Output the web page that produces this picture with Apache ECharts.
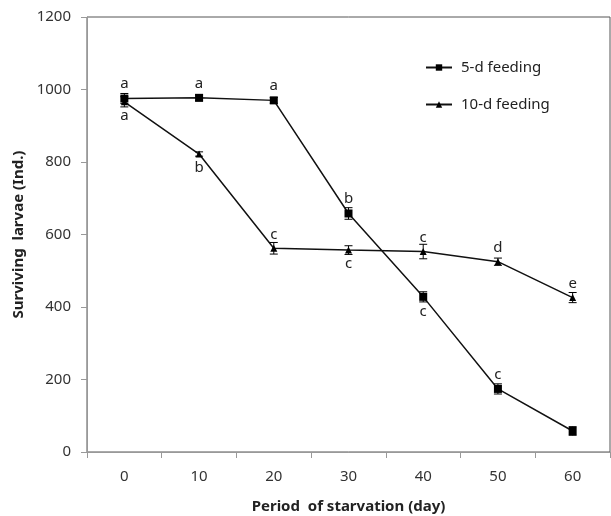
<!DOCTYPE html>
<html>
<head>
<meta charset="utf-8">
<script src="https://cdn.jsdelivr.net/npm/echarts@6/dist/echarts.min.js"></script>
<style>
  html, body { margin: 0; padding: 0; background: #fff; }
  #chart { width: 611px; height: 516px; }
</style>
</head>
<body>
<div id="chart"></div>
<script>
// 数据
var days = ['0', '10', '20', '30', '40', '50', '60'];
var feed5 = [975, 977, 970, 658, 428, 174, 58];
var feed5Err = [14, 8, 8, 16, 14, 14, 12];
var feed5Letters = ['a', 'a', 'a', 'b', 'c', 'c', ''];
var feed5LetterPos = ['top', 'top', 'top', 'top', 'bottom', 'top', 'top'];
var feed10 = [966, 822, 562, 557, 553, 525, 426];
var feed10Err = [14, 6, 16, 12, 20, 10, 14];
var feed10Letters = ['a', 'b', 'c', 'c', 'c', 'd', 'e'];
var feed10LetterPos = ['bottom', 'bottom', 'top', 'bottom', 'top', 'top', 'top'];
var yTicks = [0, 200, 400, 600, 800, 1000, 1200];

var fontFam = '"Noto Sans", "DejaVu Sans", sans-serif';

function pointData(vals, letters, pos) {
    return vals.map(function (v, i) {
        return {
            value: v,
            label: {
                show: letters[i] !== '',
                formatter: letters[i],
                position: pos[i],
                distance: 3
            }
        };
    });
}

function errData(vals, errs) {
    return vals.map(function (v, i) { return [i, v - errs[i], v + errs[i]]; });
}

// 误差线
function renderErr(params, api) {
    var lo = api.coord([api.value(0), api.value(1)]);
    var hi = api.coord([api.value(0), api.value(2)]);
    var w = 4;
    var st = { stroke: '#000', lineWidth: 1 };
    return {
        type: 'group',
        children: [
            { type: 'line', shape: { x1: lo[0], y1: lo[1], x2: hi[0], y2: hi[1] }, style: st },
            { type: 'line', shape: { x1: lo[0] - w, y1: lo[1], x2: lo[0] + w, y2: lo[1] }, style: st },
            { type: 'line', shape: { x1: hi[0] - w, y1: hi[1], x2: hi[0] + w, y2: hi[1] }, style: st }
        ]
    };
}

var myChart = echarts.init(document.getElementById('chart'));
var option = {
    animation: false,
    textStyle: { fontFamily: fontFam },
    grid: {
        left: 87, right: 1, top: 17, bottom: 64,
        outerBoundsMode: 'none',
        containLabel: false,
        show: true,
        borderColor: '#555',
        borderWidth: 1
    },
    legend: {
        top: 55,
        left: 420,
        orient: 'vertical',
        itemGap: 22,
        itemWidth: 26,
        itemHeight: 8,
        textStyle: { fontSize: 15, color: '#222', fontFamily: fontFam, padding: [0, 0, 0, 4] },
        data: ['5-d feeding', '10-d feeding']
    },
    xAxis: {
        type: 'category',
        data: days,
        boundaryGap: true,
        name: 'Period  of starvation (day)',
        nameLocation: 'middle',
        nameGap: 47,
        nameTextStyle: { fontSize: 15, fontWeight: 'bold', color: '#222', fontFamily: fontFam },
        axisLine: { lineStyle: { color: '#999' } },
        axisTick: { show: true, length: 6, lineStyle: { color: '#999' } },
        axisLabel: { fontSize: 15, color: '#333', margin: 17 },
        splitLine: { show: false }
    },
    yAxis: {
        type: 'value',
        min: 0,
        max: 1200,
        interval: 200,
        name: 'Surviving  larvae (Ind.)',
        nameLocation: 'middle',
        nameGap: 58,
        nameRotate: 90,
        nameTextStyle: { fontSize: 15, fontWeight: 'bold', color: '#222', fontFamily: fontFam },
        axisLine: { show: true, lineStyle: { color: '#999' } },
        axisTick: { show: true, length: 6, lineStyle: { color: '#999' } },
        axisLabel: {
            fontSize: 15, color: '#333', margin: 16,
            formatter: function (v) { return yTicks.indexOf(v) >= 0 ? String(v) : ''; }
        },
        splitLine: { show: false }
    },
    series: [
        {
            name: '5-d feeding',
            type: 'line',
            data: pointData(feed5, feed5Letters, feed5LetterPos),
            symbol: 'rect',
            symbolSize: 8,
            itemStyle: { color: '#000' },
            lineStyle: { color: '#111', width: 1.5 },
            label: { color: '#222', fontSize: 15, fontFamily: fontFam },
            z: 3
        },
        {
            name: '10-d feeding',
            type: 'line',
            data: pointData(feed10, feed10Letters, feed10LetterPos),
            symbol: 'triangle',
            symbolSize: 7,
            itemStyle: { color: '#000' },
            lineStyle: { color: '#111', width: 1.5 },
            label: { color: '#222', fontSize: 15, fontFamily: fontFam },
            z: 3
        },
        {
            type: 'custom',
            renderItem: renderErr,
            data: errData(feed5, feed5Err),
            encode: { x: 0, y: [1, 2] },
            z: 4
        },
        {
            type: 'custom',
            renderItem: renderErr,
            data: errData(feed10, feed10Err),
            encode: { x: 0, y: [1, 2] },
            z: 4
        }
    ]
};
myChart.setOption(option);
</script>
</body>
</html>
